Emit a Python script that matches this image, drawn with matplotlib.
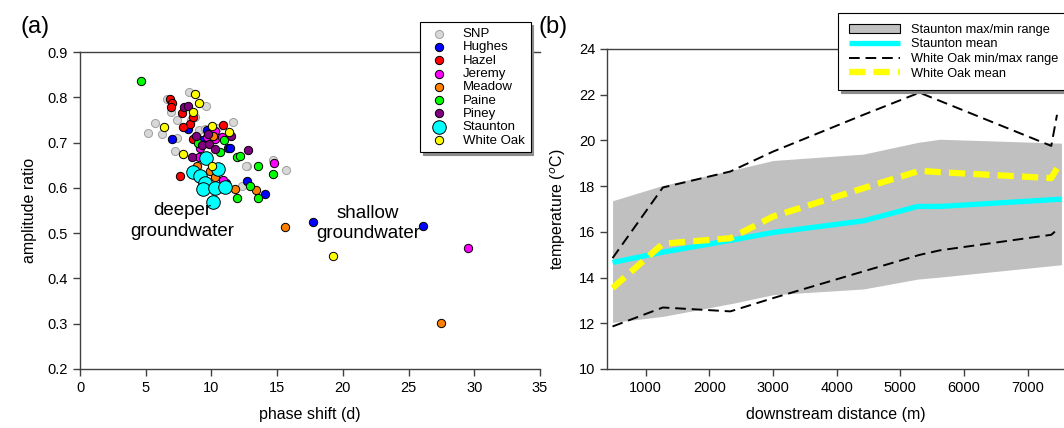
import matplotlib
matplotlib.use("Agg")
import matplotlib.pyplot as plt

plt.rcParams["font.family"] = ["Liberation Sans", "DejaVu Sans"]

# Panel (a): phase shift (d) vs amplitude ratio for each stream
snp_phase = [8.32, 9.59, 6.60, 6.90, 8.75, 7.36, 5.71, 5.15, 6.27, 8.42, 11.67, 7.36,
             9.08, 10.40, 9.51, 7.23, 12.69, 12.63, 14.71, 15.68, 12.30]
snp_amp = [0.811, 0.781, 0.796, 0.767, 0.757, 0.750, 0.743, 0.722, 0.719, 0.750, 0.745, 0.709,
           0.728, 0.732, 0.729, 0.682, 0.648, 0.648, 0.662, 0.639, 0.604]

hughes_phase = [8.24, 6.98, 9.21, 9.64, 11.29, 11.42, 11.11, 12.69, 14.08, 17.71, 26.08]
hughes_amp = [0.730, 0.707, 0.706, 0.728, 0.687, 0.687, 0.610, 0.616, 0.586, 0.525, 0.516]

hazel_phase = [6.85, 6.98, 6.90, 7.74, 8.37, 7.81, 8.58, 10.86, 7.61, 8.62]
hazel_amp = [0.796, 0.787, 0.779, 0.766, 0.741, 0.735, 0.708, 0.739, 0.626, 0.757]

jeremy_phase = [10.27, 9.64, 10.27, 10.78, 9.13, 9.08, 14.76, 10.86, 29.55]
jeremy_amp = [0.726, 0.712, 0.708, 0.713, 0.687, 0.669, 0.654, 0.617, 0.468]

meadow_phase = [10.10, 8.88, 9.89, 10.27, 11.80, 13.39, 15.60, 27.45]
meadow_amp = [0.715, 0.648, 0.638, 0.625, 0.597, 0.595, 0.514, 0.301]

paine_phase = [4.62, 10.98, 9.00, 10.65, 11.97, 12.18, 13.57, 14.71, 12.94, 11.93, 13.57]
paine_amp = [0.836, 0.706, 0.698, 0.680, 0.669, 0.671, 0.649, 0.630, 0.603, 0.577, 0.578]

piney_phase = [7.90, 8.20, 8.83, 9.77, 11.47, 9.26, 9.84, 10.27, 8.50, 12.81]
piney_amp = [0.779, 0.781, 0.715, 0.719, 0.715, 0.695, 0.696, 0.685, 0.669, 0.684]

staunton_phase = [9.59, 10.53, 8.62, 9.13, 9.51, 9.39, 10.27, 11.04, 10.15]
staunton_amp = [0.667, 0.641, 0.636, 0.626, 0.611, 0.597, 0.599, 0.601, 0.569]

whiteoak_phase = [8.75, 9.08, 8.58, 6.42, 10.02, 11.34, 7.86, 10.02, 19.28]
whiteoak_amp = [0.807, 0.788, 0.768, 0.734, 0.737, 0.724, 0.675, 0.648, 0.450]

# Panel (b): temperature along the stream
stn_dist = [480, 1270, 2380, 3000, 4420, 5270, 5620, 7530]
stn_max = [17.36, 18.03, 18.71, 19.12, 19.40, 19.91, 20.05, 19.88]
stn_min = [12.04, 12.30, 12.88, 13.25, 13.50, 13.93, 14.02, 14.56]
stn_mean = [14.66, 15.11, 15.65, 15.97, 16.48, 17.11, 17.11, 17.43]

wo_dist = [480, 1270, 2330, 3000, 4420, 5300, 5620, 7370, 7460]
wo_max = [14.85, 17.94, 18.64, 19.51, 21.12, 22.09, 21.73, 19.76, 21.12]
wo_min = [11.86, 12.69, 12.52, 13.10, 14.27, 14.99, 15.19, 15.87, 16.09]
wo_mean = [13.54, 15.48, 15.72, 16.67, 17.91, 18.67, 18.61, 18.35, 18.78]


def style_axes(ax):
    ax.spines["right"].set_visible(False)
    for sp in ax.spines.values():
        sp.set_color("#404040")
        sp.set_linewidth(1.0)
    ax.tick_params(direction="out", length=5, width=1, colors="#404040",
                   labelcolor="black", labelsize=10.5, top=False, right=False)


fig = plt.figure(figsize=(10.64, 4.28), dpi=100)

# ---- panel (a)
ax1 = fig.add_axes([0.0752, 0.1379, 0.4323, 0.7406])
groups = [
    ("SNP", snp_phase, snp_amp, "#d8d8d8", "#a0a0a0", 34),
    ("Hughes", hughes_phase, hughes_amp, "#0000ff", "black", 36),
    ("Hazel", hazel_phase, hazel_amp, "#ff0000", "black", 36),
    ("Jeremy", jeremy_phase, jeremy_amp, "#ff00ff", "black", 36),
    ("Meadow", meadow_phase, meadow_amp, "#ff8000", "black", 36),
    ("Paine", paine_phase, paine_amp, "#00ff00", "black", 36),
    ("Piney", piney_phase, piney_amp, "#800080", "black", 36),
    ("Staunton", staunton_phase, staunton_amp, "#00ffff", "black", 95),
    ("White Oak", whiteoak_phase, whiteoak_amp, "#ffff00", "black", 36),
]
for name, xs, ys, fc, ec, size in groups:
    ax1.scatter(xs, ys, s=size, c=fc, edgecolors=ec, linewidths=0.7, label=name, zorder=3)

ax1.set_xlim(0, 35)
ax1.set_ylim(0.2, 0.9)
ax1.set_xticks(range(0, 36, 5))
ax1.set_yticks([0.2, 0.3, 0.4, 0.5, 0.6, 0.7, 0.8, 0.9])
ax1.set_xlabel("phase shift (d)", fontsize=11.5, labelpad=9)
ax1.set_ylabel("amplitude ratio", fontsize=11.5, labelpad=8)
style_axes(ax1)

ax1.text(7.8, 0.527, "deeper\ngroundwater", ha="center", va="center",
         fontsize=13.5, linespacing=1.25)
ax1.text(21.9, 0.522, "shallow\ngroundwater", ha="center", va="center",
         fontsize=13.5, linespacing=1.25)

leg1 = ax1.legend(loc="upper left", bbox_to_anchor=(420 / 1064, 1 - 22 / 428),
                  bbox_transform=fig.transFigure, fontsize=9.5, frameon=True,
                  fancybox=False, borderpad=0.45, labelspacing=0.08,
                  handletextpad=0.8, borderaxespad=0, scatterpoints=1,
                  shadow={"color": "0.55", "alpha": 1})
leg1.get_frame().set_edgecolor("black")
leg1.get_frame().set_linewidth(0.8)

fig.text(20 / 1064, 1 - 27 / 428, "(a)", fontsize=17, va="center")

# ---- panel (b)
ax2 = fig.add_axes([0.5705, 0.1379, 0.4295, 0.7477])
ax2.fill_between(stn_dist, stn_min, stn_max, color="#c0c0c0", linewidth=0,
                 label="Staunton max/min range")
ax2.plot(stn_dist, stn_mean, color="#00ffff", lw=3.8, solid_capstyle="butt",
         label="Staunton mean")
ax2.plot(wo_dist, wo_min, color="black", lw=1.4, linestyle=(0, (5.5, 3.0)),
         label="White Oak min/max range")
ax2.plot(wo_dist, wo_max, color="black", lw=1.4, linestyle=(0, (5.5, 3.0)))
ax2.plot(wo_dist, wo_mean, color="#ffff00", lw=4.5, linestyle=(0, (2.6, 1.3)),
         label="White Oak mean")

ax2.set_xlim(393, 7570)
ax2.set_ylim(10, 24)
ax2.set_xticks(range(1000, 8000, 1000))
ax2.set_yticks(range(10, 25, 2))
ax2.set_xlabel("downstream distance (m)", fontsize=11.5, labelpad=9)
ax2.set_ylabel("temperature ($^o$C)", fontsize=11.5, labelpad=8)
style_axes(ax2)

leg2 = ax2.legend(loc="upper left", bbox_to_anchor=(838 / 1064, 1 - 13 / 428),
                  bbox_transform=fig.transFigure, fontsize=9.2, frameon=True,
                  fancybox=False, borderpad=0.85, labelspacing=0.2,
                  handlelength=4.0, handletextpad=0.85, borderaxespad=0,
                  shadow={"color": "0.55", "alpha": 1})
leg2.get_frame().set_edgecolor("black")
leg2.get_frame().set_linewidth(0.8)
leg2.legend_handles[0].set_edgecolor("black")
leg2.legend_handles[0].set_linewidth(0.8)

fig.text(538 / 1064, 1 - 27 / 428, "(b)", fontsize=17, va="center")

fig.savefig("out.png", dpi=100)
